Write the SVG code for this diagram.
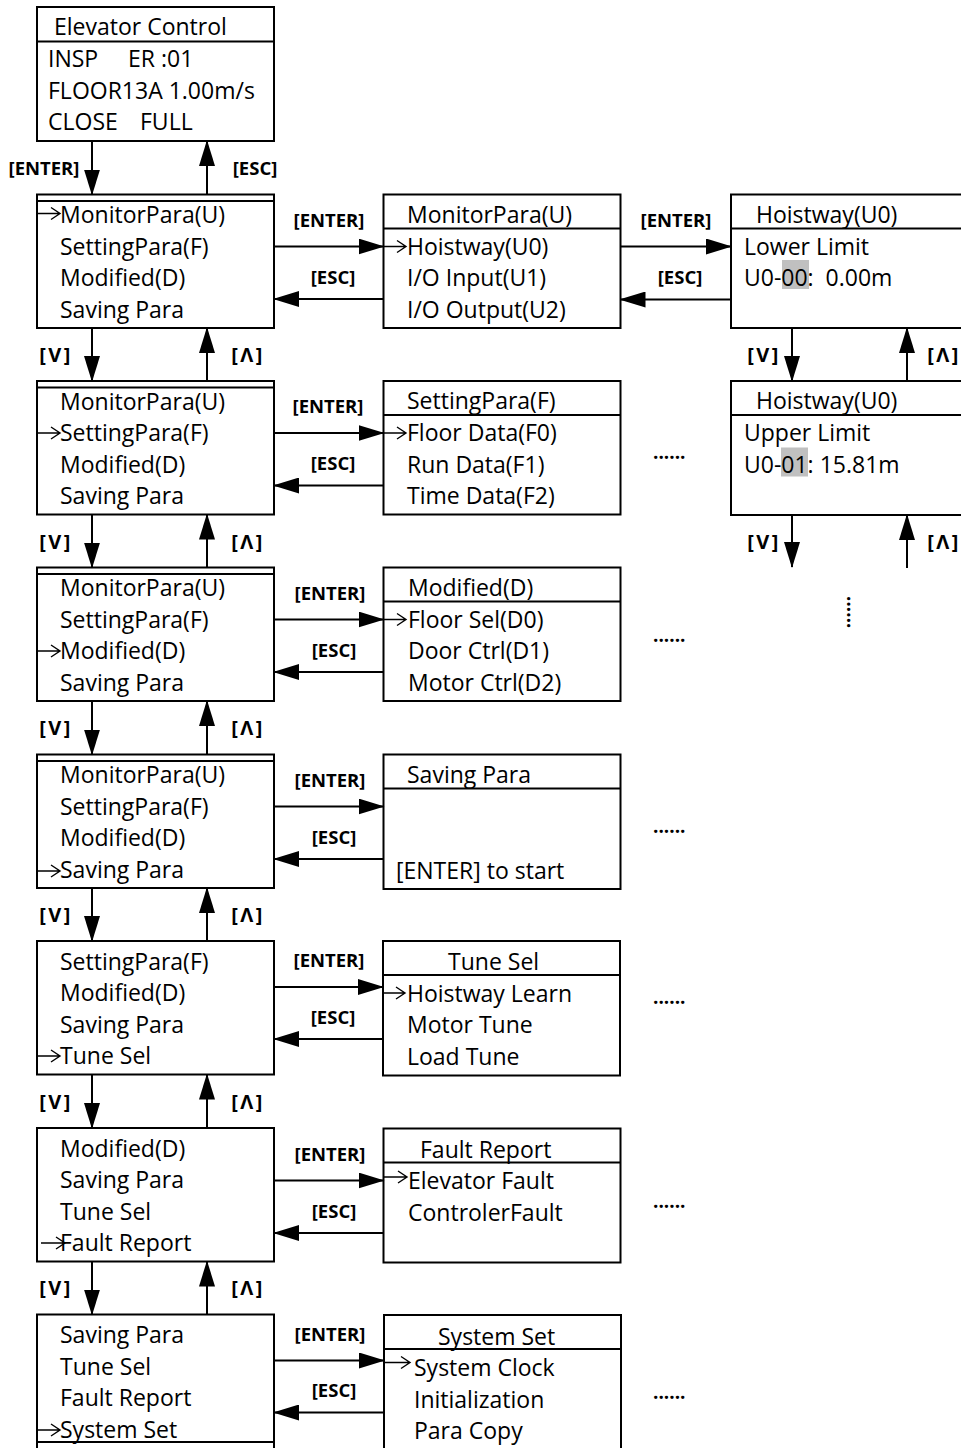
<svg xmlns="http://www.w3.org/2000/svg" width="961" height="1448" viewBox="0 0 961 1448">
<defs>
<style>
.bx{fill:#fff;stroke:#000;stroke-width:2}
.ln{fill:none;stroke:#000;stroke-width:2}
.pt{fill:none;stroke:#000;stroke-width:1.4}
.t{font-family:"Open Sans","Liberation Sans",sans-serif;font-size:23px;fill:#000}
.k{font-family:"Open Sans","Liberation Sans",sans-serif;font-size:18.5px;font-weight:700;fill:#000;text-anchor:middle}
.v{font-family:"Open Sans","Liberation Sans",sans-serif;font-size:20px;font-weight:700;fill:#000;text-anchor:middle;letter-spacing:2.5px}
.ve{text-anchor:end}
.d{font-family:"Open Sans","Liberation Sans",sans-serif;font-size:19px;font-weight:700;fill:#000}
.a{fill:none;stroke:#000;stroke-width:2;marker-end:url(#ah)}
.hl{fill:#c0c0c0}
</style>
<marker id="ah" viewBox="0 0 26 16" refX="25" refY="8" markerWidth="26" markerHeight="16" markerUnits="userSpaceOnUse" orient="auto"><path d="M0,0 L26,8 L0,16 Z" fill="#000"/></marker>
</defs>
<rect width="961" height="1448" fill="#fff"/>

<g id="home">
<rect class="bx" x="37" y="7" width="237" height="134"/>
<line class="ln" x1="37" y1="41.5" x2="274" y2="41.5"/>
<text class="t" x="54" y="35">Elevator Control</text>
<text class="t" y="67"><tspan x="48">INSP</tspan><tspan x="128">ER :01</tspan></text>
<text class="t" x="48" y="98.5">FLOOR13A 1.00m/s</text>
<text class="t" y="130"><tspan x="48">CLOSE</tspan><tspan x="140">FULL</tspan></text>
</g>

<g id="menu1">
<rect class="bx" x="37" y="194.5" width="237" height="133.5"/>
<line class="ln" x1="37" y1="201" x2="274" y2="201"/>
<text class="t" x="60" y="223">MonitorPara(U)</text>
<text class="t" x="60" y="254.5">SettingPara(F)</text>
<text class="t" x="60" y="286">Modified(D)</text>
<text class="t" x="60" y="317.5">Saving Para</text>
<path class="pt" d="M37,213.5H60M51,207.5L60,213.5L51,219.5"/>
</g>
<g id="menu2">
<rect class="bx" x="37" y="381" width="237" height="133.5"/>
<line class="ln" x1="37" y1="387.5" x2="274" y2="387.5"/>
<text class="t" x="60" y="409.5">MonitorPara(U)</text>
<text class="t" x="60" y="441">SettingPara(F)</text>
<text class="t" x="60" y="472.5">Modified(D)</text>
<text class="t" x="60" y="504">Saving Para</text>
<path class="pt" d="M37,433H60M51,427L60,433L51,439"/>
</g>
<g id="menu3">
<rect class="bx" x="37" y="567.5" width="237" height="133.5"/>
<line class="ln" x1="37" y1="574" x2="274" y2="574"/>
<text class="t" x="60" y="596">MonitorPara(U)</text>
<text class="t" x="60" y="627.5">SettingPara(F)</text>
<text class="t" x="60" y="659">Modified(D)</text>
<text class="t" x="60" y="690.5">Saving Para</text>
<path class="pt" d="M37,651H60M51,645L60,651L51,657"/>
</g>
<g id="menu4">
<rect class="bx" x="37" y="754.5" width="237" height="133.5"/>
<line class="ln" x1="37" y1="761" x2="274" y2="761"/>
<text class="t" x="60" y="783">MonitorPara(U)</text>
<text class="t" x="60" y="814.5">SettingPara(F)</text>
<text class="t" x="60" y="846">Modified(D)</text>
<text class="t" x="60" y="877.5">Saving Para</text>
<path class="pt" d="M37,871H60M51,865L60,871L51,877"/>
</g>
<g id="menu5">
<rect class="bx" x="37" y="941" width="237" height="133.5"/>
<text class="t" x="60" y="969.5">SettingPara(F)</text>
<text class="t" x="60" y="1001">Modified(D)</text>
<text class="t" x="60" y="1032.5">Saving Para</text>
<text class="t" x="60" y="1064">Tune Sel</text>
<path class="pt" d="M37,1056H60M51,1050L60,1056L51,1062"/>
</g>
<g id="menu6">
<rect class="bx" x="37" y="1128" width="237" height="133.5"/>
<text class="t" x="60" y="1156.5">Modified(D)</text>
<text class="t" x="60" y="1188">Saving Para</text>
<text class="t" x="60" y="1219.5">Tune Sel</text>
<text class="t" x="60" y="1251">Fault Report</text>
<path class="pt" d="M41,1243H65M56,1237L65,1243L56,1249"/>
</g>
<g id="menu7">
<rect class="bx" x="37" y="1314.5" width="237" height="150"/>
<line class="ln" x1="37" y1="1442" x2="274" y2="1442"/>
<text class="t" x="60" y="1343">Saving Para</text>
<text class="t" x="60" y="1374.5">Tune Sel</text>
<text class="t" x="60" y="1406">Fault Report</text>
<text class="t" x="60" y="1437.5">System Set</text>
<path class="pt" d="M37,1430H60M51,1424L60,1430L51,1436"/>
</g>

<g id="monitor">
<rect class="bx" x="383.5" y="194.5" width="237" height="133.5"/>
<line class="ln" x1="383.5" y1="228.5" x2="620.5" y2="228.5"/>
<text class="t" x="407" y="222.5">MonitorPara(U)</text>
<text class="t" x="407" y="254.5">Hoistway(U0)</text>
<text class="t" x="407" y="286">I/O Input(U1)</text>
<text class="t" x="407" y="317.5">I/O Output(U2)</text>
<path class="pt" d="M383.5,246.5H406M397,240.5L406,246.5L397,252.5"/>
</g>
<g id="setting">
<rect class="bx" x="383.5" y="381" width="237" height="133.5"/>
<line class="ln" x1="383.5" y1="415" x2="620.5" y2="415"/>
<text class="t" x="407" y="409">SettingPara(F)</text>
<text class="t" x="407" y="441">Floor Data(F0)</text>
<text class="t" x="407" y="472.5">Run Data(F1)</text>
<text class="t" x="407" y="504">Time Data(F2)</text>
<path class="pt" d="M383.5,433H406M397,427L406,433L397,439"/>
</g>
<g id="modified">
<rect class="bx" x="383.5" y="567.5" width="237" height="133.5"/>
<line class="ln" x1="383.5" y1="601.5" x2="620.5" y2="601.5"/>
<text class="t" x="408" y="595.5">Modified(D)</text>
<text class="t" x="408" y="627.5">Floor Sel(D0)</text>
<text class="t" x="408" y="659">Door Ctrl(D1)</text>
<text class="t" x="408" y="690.5">Motor Ctrl(D2)</text>
<path class="pt" d="M383.5,619.5H406M397,613.5L406,619.5L397,625.5"/>
</g>
<g id="saving">
<rect class="bx" x="383.5" y="754.5" width="237" height="134.5"/>
<line class="ln" x1="383.5" y1="788.5" x2="620.5" y2="788.5"/>
<text class="t" x="407" y="782.5">Saving Para</text>
<text class="t" x="396" y="878.5">[ENTER] to start</text>
</g>
<g id="tune">
<rect class="bx" x="383" y="941" width="237" height="134.5"/>
<line class="ln" x1="383" y1="975" x2="620" y2="975"/>
<text class="t" x="448" y="970">Tune Sel</text>
<text class="t" x="407" y="1001.5">Hoistway Learn</text>
<text class="t" x="407" y="1033">Motor Tune</text>
<text class="t" x="407" y="1065">Load Tune</text>
<path class="pt" d="M383,993H405M396,987L405,993L396,999"/>
</g>
<g id="fault">
<rect class="bx" x="383.5" y="1128.5" width="237" height="134"/>
<line class="ln" x1="383.5" y1="1162.5" x2="620.5" y2="1162.5"/>
<text class="t" x="420" y="1157.5">Fault Report</text>
<text class="t" x="408" y="1189">Elevator Fault</text>
<text class="t" x="408" y="1220.5">ControlerFault</text>
<path class="pt" d="M383.5,1177H407M398,1171L407,1177L398,1183"/>
</g>
<g id="system">
<rect class="bx" x="384" y="1315" width="237" height="150"/>
<line class="ln" x1="384" y1="1349" x2="621" y2="1349"/>
<text class="t" x="438" y="1345">System Set</text>
<text class="t" x="414" y="1376">System Clock</text>
<text class="t" x="414" y="1407.5">Initialization</text>
<text class="t" x="414" y="1438.5">Para Copy</text>
<path class="pt" d="M384,1362.5H410M401,1356.5L410,1362.5L401,1368.5"/>
</g>

<g id="lower">
<rect class="bx" x="731" y="194.5" width="250" height="133.5"/>
<line class="ln" x1="731" y1="228.5" x2="981" y2="228.5"/>
<text class="t" x="756" y="222.5">Hoistway(U0)</text>
<text class="t" x="744" y="254.5">Lower Limit</text>
<rect class="hl" x="782" y="260" width="27" height="29"/>
<text class="t" x="744" y="286" xml:space="preserve">U0-00:  0.00m</text>
</g>
<g id="upper">
<rect class="bx" x="731" y="381" width="250" height="134"/>
<line class="ln" x1="731" y1="415" x2="981" y2="415"/>
<text class="t" x="756" y="409">Hoistway(U0)</text>
<text class="t" x="744" y="441">Upper Limit</text>
<rect class="hl" x="781" y="447.5" width="27" height="29"/>
<text class="t" x="744" y="472.5">U0-01: 15.81m</text>
</g>

<g id="connectors">
<path class="a" d="M92,141V194.5"/>
<path class="a" d="M207,194.5V141"/>
<text class="k" x="44" y="174.5">[ENTER]</text>
<text class="k" x="255" y="174.5">[ESC]</text>

<path class="a" d="M92,328V381"/><path class="a" d="M207,381V328"/>
<text class="v" x="56" y="362">[V]</text><text class="v" x="248" y="362">[Λ]</text>
<path class="a" d="M92,514.5V567.5"/><path class="a" d="M207,567.5V514.5"/>
<text class="v" x="56" y="548.5">[V]</text><text class="v" x="248" y="548.5">[Λ]</text>
<path class="a" d="M92,701V754.5"/><path class="a" d="M207,754.5V701"/>
<text class="v" x="56" y="735">[V]</text><text class="v" x="248" y="735">[Λ]</text>
<path class="a" d="M92,888V941"/><path class="a" d="M207,941V888"/>
<text class="v" x="56" y="921.5">[V]</text><text class="v" x="248" y="921.5">[Λ]</text>
<path class="a" d="M92,1074.5V1128"/><path class="a" d="M207,1128V1074.5"/>
<text class="v" x="56" y="1108.5">[V]</text><text class="v" x="248" y="1108.5">[Λ]</text>
<path class="a" d="M92,1261.5V1314.5"/><path class="a" d="M207,1314.5V1261.5"/>
<text class="v" x="56" y="1294.5">[V]</text><text class="v" x="248" y="1294.5">[Λ]</text>

<path class="a" d="M274,246.5H383.5"/><path class="a" d="M383.5,299H274"/>
<text class="k" x="329" y="226.5">[ENTER]</text><text class="k" x="333" y="283.5">[ESC]</text>
<path class="a" d="M274,433H383.5"/><path class="a" d="M383.5,485.5H274"/>
<text class="k" x="328" y="413">[ENTER]</text><text class="k" x="333" y="470">[ESC]</text>
<path class="a" d="M274,619.5H383.5"/><path class="a" d="M383.5,672H274"/>
<text class="k" x="330" y="599.5">[ENTER]</text><text class="k" x="334" y="656.5">[ESC]</text>
<path class="a" d="M274,806.5H383.5"/><path class="a" d="M383.5,859H274"/>
<text class="k" x="330" y="786.5">[ENTER]</text><text class="k" x="334" y="843.5">[ESC]</text>
<path class="a" d="M274,987H383"/><path class="a" d="M383,1039H274"/>
<text class="k" x="329" y="967">[ENTER]</text><text class="k" x="333" y="1023.5">[ESC]</text>
<path class="a" d="M274,1180.5H383.5"/><path class="a" d="M383.5,1233H274"/>
<text class="k" x="330" y="1160.5">[ENTER]</text><text class="k" x="334" y="1217.5">[ESC]</text>
<path class="a" d="M274,1360.5H384"/><path class="a" d="M384,1412.5H274"/>
<text class="k" x="330" y="1340.5">[ENTER]</text><text class="k" x="334" y="1397">[ESC]</text>

<path class="a" d="M620.5,246.5H731"/><path class="a" d="M731,299.5H620.5"/>
<text class="k" x="676" y="226.5">[ENTER]</text><text class="k" x="680" y="283.5">[ESC]</text>

<path class="a" d="M792,328V381"/><path class="a" d="M907,381V328"/>
<text class="v" x="764" y="362">[V]</text><text class="v ve" x="961" y="362">[Λ]</text>
<path class="a" d="M792,515V567"/><path class="a" d="M907,568V515"/>
<text class="v" x="764" y="548.5">[V]</text><text class="v ve" x="961" y="548.5">[Λ]</text>
</g>

<g id="ellipses">
<text class="d" x="653" y="458.5">......</text>
<text class="d" x="653" y="641.5">......</text>
<text class="d" x="653" y="832.5">......</text>
<text class="d" x="653" y="1003.5">......</text>
<text class="d" x="653" y="1207.5">......</text>
<text class="d" x="653" y="1398.5">......</text>
<text class="d" transform="translate(846.5,596) rotate(90)">......</text>
</g>
</svg>
